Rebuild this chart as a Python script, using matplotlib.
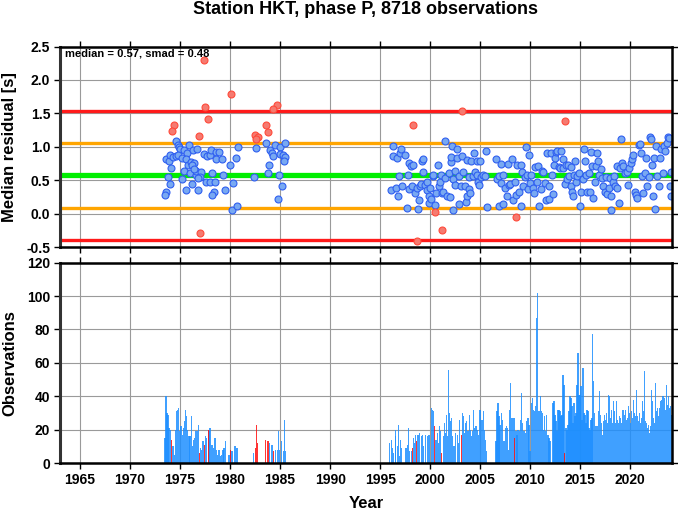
import matplotlib
matplotlib.use("Agg")
import matplotlib.pyplot as plt
import numpy as np

plt.rcParams['font.family'] = ['Liberation Sans', 'DejaVu Sans']
plt.rcParams['font.weight'] = 'bold'

# ---------------- data ----------------
title = "Station HKT, phase P, 8718 observations"
median_val = 0.57
smad_val = 0.48

# monthly median residuals (blue = within +-1 smad, red = outside)
blue_years = [
    1974.64, 1974.77, 1974.90, 1975.04, 1975.37, 1975.70, 1975.90, 1976.30, 1976.70, 1973.64,
    1973.90, 1974.04, 1974.30, 1974.57, 1974.84, 1975.24, 1975.64, 1975.77, 1976.10, 1976.37,
    1977.37, 1977.70, 1977.97, 1978.10, 1978.57, 1978.90, 1978.64, 1979.17, 1974.10, 1973.77,
    1973.97, 1973.57, 1973.50, 1975.24, 1975.37, 1975.64, 1975.97, 1976.24, 1976.57, 1976.64,
    1976.84, 1977.10, 1977.04, 1977.64, 1977.97, 1978.24, 1978.37, 1978.17, 1978.50, 1979.30,
    1979.50, 1979.97, 1980.30, 1980.57, 1980.77, 1980.17, 1980.70, 1976.17, 1976.44, 1976.84,
    1982.64, 1983.57, 1983.97, 1984.17, 1984.50, 1984.97, 1985.50, 1984.97, 1984.30, 1985.24,
    1985.44, 1985.37, 1983.90, 1983.77, 1984.84, 1982.44, 1985.17, 1984.77,
    1996.04, 1996.24, 1996.30, 1996.57, 1996.64, 1996.77, 1996.84, 1996.97, 1997.10, 1997.17,
    1997.50, 1997.64, 1997.77, 1997.84, 1997.90, 1998.04, 1998.17, 1998.30, 1998.50, 1998.64,
    1998.77, 1998.84, 1998.97, 1999.10, 1999.17, 1999.24, 1999.30, 1999.50, 1999.64, 1999.70,
    1999.84, 1999.90, 1999.97, 2000.10, 2000.24, 2000.30, 2000.50, 2000.57, 2000.77, 2000.84,
    2000.97, 2001.04, 2001.17, 2001.30, 2001.44, 2001.50, 2001.64, 2001.84, 2001.97, 2002.04,
    2002.10, 2002.17, 2002.24, 2002.30, 2002.44, 2002.50, 2002.64, 2002.70, 2002.84, 2002.90,
    2003.04, 2003.17, 2003.30, 2003.44, 2003.57, 2003.64, 2003.70, 2003.84, 2003.90, 2003.97,
    2004.10, 2004.24, 2004.37, 2004.50, 2004.64, 2004.70, 2004.77, 2004.90, 2004.97, 2005.10,
    2005.30, 2005.44, 2005.57, 2005.64, 2006.57, 2006.70, 2006.84, 2006.90, 2007.04, 2007.10,
    2007.24, 2007.30, 2007.44, 2007.64, 2007.77, 2007.84, 2007.97, 2008.17, 2008.30, 2008.44,
    2008.57, 2008.70, 2008.84, 2009.04, 2009.10, 2009.17, 2009.30, 2009.44, 2009.57, 2009.70,
    2009.77, 2009.90, 2009.97, 2010.10, 2010.24, 2010.37, 2010.50, 2010.64, 2010.77, 2010.90,
    2011.04, 2011.17, 2011.30, 2011.44, 2011.57, 2011.70, 2011.84, 2011.90, 2012.10, 2012.17,
    2012.30, 2012.37, 2012.50, 2012.57, 2012.70, 2012.84, 2012.97, 2013.10, 2013.24, 2013.30,
    2013.44, 2013.57, 2013.64, 2013.77, 2013.90, 2014.04, 2014.10, 2014.17, 2014.30, 2014.37,
    2014.44, 2014.57, 2014.70, 2014.84, 2014.97, 2015.10, 2015.24, 2015.37, 2015.44, 2015.57,
    2015.70, 2015.84, 2015.97, 2016.10, 2016.17, 2016.30, 2016.44, 2016.57, 2016.70, 2016.77,
    2016.90, 2017.04, 2017.17, 2017.30, 2017.44, 2017.57, 2017.70, 2017.84, 2017.97, 2018.04,
    2018.10, 2018.24, 2018.37, 2018.50, 2018.64, 2018.70, 2018.84, 2018.97, 2019.04, 2019.17,
    2019.30, 2019.44, 2019.64, 2019.77, 2019.90, 2020.04, 2020.17, 2020.30, 2020.44, 2020.57,
    2020.70, 2020.84, 2020.97, 2021.04, 2021.17, 2021.30, 2021.44, 2021.57, 2021.70, 2021.84,
    2021.97, 2022.04, 2022.17, 2022.30, 2022.37, 2022.50, 2022.57, 2022.70, 2022.84, 2022.97,
    2023.10, 2023.24, 2023.37, 2023.50, 2023.64, 2023.77, 2023.90, 2023.97, 2024.04, 2024.10,
]
blue_medians = [
    1.09, 1.03, 1.00, 0.96, 0.95, 0.91, 1.02, 0.95, 0.96, 0.81,
    0.79, 0.87, 0.85, 0.86, 0.88, 0.83, 0.82, 0.73, 0.77, 0.75,
    0.89, 0.86, 0.87, 0.95, 0.92, 0.92, 0.82, 0.82, 0.68, 0.55,
    0.44, 0.32, 0.28, 0.51, 0.63, 0.35, 0.60, 0.45, 0.58, 0.64,
    0.35, 0.62, 0.55, 0.48, 0.48, 0.60, 0.33, 0.28, 0.48, 0.58,
    0.35, 0.72, 0.46, 0.83, 1.00, 0.05, 0.12, 0.72, 0.66, 0.53,
    0.98, 1.06, 0.95, 0.91, 1.02, 1.00, 1.05, 0.89, 0.86, 0.88,
    0.85, 0.79, 0.73, 0.60, 0.58, 0.55, 0.41, 0.22,
    0.36, 0.86, 1.01, 0.39, 0.83, 0.26, 0.56, 0.91, 0.97, 0.42,
    0.87, 0.08, 0.58, 0.76, 0.37, 0.71, 0.42, 0.73, 0.31, 0.38,
    0.07, 0.21, 0.42, 0.45, 0.79, 0.62, 0.82, 0.43, 0.48, 0.36,
    0.16, 0.26, 0.39, 0.22, 0.56, 0.57, 0.13, 0.31, 0.72, 0.42,
    0.48, 0.58, 0.31, 0.33, 1.09, 0.53, 0.26, 0.60, 0.25, 0.77,
    0.84, 1.01, 0.05, 0.51, 0.64, 0.43, 0.96, 0.83, 0.15, 0.56,
    0.42, 0.86, 0.62, 0.42, 0.18, 0.26, 0.80, 0.55, 0.37, 0.31,
    0.78, 0.56, 0.91, 0.62, 0.78, 0.58, 0.48, 0.43, 0.79, 0.55,
    0.58, 0.56, 0.94, 0.10, 0.81, 0.51, 0.11, 0.56, 0.74, 0.46,
    0.57, 0.15, 0.38, 0.26, 0.74, 0.43, 0.45, 0.82, 0.21, 0.48,
    0.28, 0.72, 0.33, 0.12, 0.72, 0.62, 0.41, 0.54, 0.99, 0.57,
    0.37, 0.87, 0.46, 0.58, 0.39, 0.31, 0.69, 0.48, 0.71, 0.12,
    0.37, 0.63, 0.62, 0.46, 0.21, 0.90, 0.22, 0.42, 0.90, 0.57,
    0.30, 0.72, 0.83, 0.92, 0.93, 0.70, 0.68, 0.93, 0.68, 0.82,
    0.44, 0.72, 0.51, 0.72, 0.56, 0.41, 0.70, 0.32, 0.26, 0.58,
    0.78, 0.48, 0.56, 0.61, 0.12, 0.33, 0.52, 0.96, 0.78, 0.57,
    0.33, 0.61, 0.33, 0.92, 0.71, 0.23, 0.48, 0.71, 0.91, 0.78,
    0.57, 0.67, 0.53, 0.42, 0.33, 0.55, 0.30, 0.38, 0.53, 0.05,
    0.26, 0.47, 0.56, 0.42, 0.38, 0.71, 0.16, 0.68, 1.11, 0.75,
    0.71, 0.61, 0.62, 0.43, 0.68, 0.76, 0.81, 0.87, 0.32, 0.28,
    0.23, 1.02, 1.04, 0.91, 0.56, 0.31, 0.61, 0.83, 0.42, 0.55,
    1.15, 1.12, 0.73, 0.27, 0.83, 0.07, 1.01, 0.56, 0.41, 0.83,
    0.96, 0.61, 1.01, 0.93, 1.05, 1.14, 1.13, 0.41, 0.62, 0.26,
]
red_years = [
    1977.37, 1980.10, 1977.50, 1977.80, 1974.40, 1974.20, 1976.90, 1977.00,
    1984.70, 1984.30, 1983.60, 1983.80, 1982.50, 1982.80, 1982.60,
    1998.24, 2003.14, 2013.50, 2000.44, 2001.14, 1998.67, 2008.54,
]
red_medians = [
    2.30, 1.79, 1.59, 1.41, 1.32, 1.23, 1.16, -0.29,
    1.62, 1.56, 1.32, 1.22, 1.18, 1.15, 1.12,
    1.33, 1.53, 1.39, 0.02, -0.24, -0.41, -0.05,
]

# observations per month
obs_years = [
    1973.50, 1973.60, 1973.70, 1973.80, 1973.90, 1974.04, 1974.30, 1974.44, 1974.57, 1974.64,
    1974.77, 1974.87, 1974.97, 1975.10, 1975.24, 1975.37, 1975.47, 1975.57, 1975.67, 1975.77,
    1975.90, 1976.00, 1976.14, 1976.24, 1976.37, 1976.47, 1976.57, 1976.70, 1976.84, 1977.04,
    1977.14, 1977.30, 1977.54, 1977.67, 1977.90, 1978.00, 1978.14, 1978.27, 1978.37, 1978.50,
    1978.64, 1978.77, 1978.90, 1979.04, 1979.17, 1979.30, 1979.40, 1979.54, 1979.90, 1980.10,
    1980.24, 1980.50, 1980.64, 1980.77, 1982.37, 1983.97, 1984.10, 1984.24, 1984.57, 1984.70,
    1984.84, 1984.97, 1985.10, 1985.30, 1985.44, 1985.54,
    1995.97, 1996.10, 1996.24, 1996.37, 1996.50, 1996.57, 1996.70, 1996.80, 1996.90, 1997.04,
    1997.17, 1997.50, 1997.64, 1997.74, 1997.87, 1997.97, 1998.10, 1998.30, 1998.44, 1998.54,
    1998.74, 1998.87, 1998.97, 1999.10, 1999.20, 1999.30, 1999.57, 1999.70, 1999.84, 1999.97,
    2000.10, 2000.20, 2000.30, 2000.50, 2000.64, 2000.74, 2000.84, 2000.97, 2001.07, 2001.30,
    2001.40, 2001.50, 2001.60, 2001.74, 2001.84, 2001.94, 2002.04, 2002.14, 2002.24, 2002.37,
    2002.47, 2002.57, 2002.70, 2002.84, 2002.97, 2003.20, 2003.30, 2003.44, 2003.54, 2003.64,
    2003.77, 2003.90, 2004.04, 2004.14, 2004.24, 2004.34, 2004.44, 2004.57, 2004.70, 2004.80,
    2004.90, 2005.04, 2005.17, 2005.30, 2005.44, 2005.54, 2005.64,
    2006.57, 2006.67, 2006.77, 2006.87, 2006.97, 2007.10, 2007.24, 2007.37, 2007.50, 2007.60,
    2007.74, 2007.84, 2007.94, 2008.04, 2008.14, 2008.24, 2008.37, 2008.57, 2008.67, 2008.77,
    2008.90, 2009.04, 2009.14, 2009.24, 2009.37, 2009.50, 2009.64, 2009.77, 2009.87, 2009.97,
    2010.10, 2010.20, 2010.30, 2010.44, 2010.54, 2010.60, 2010.70, 2010.80, 2010.90, 2011.00,
    2011.10, 2011.24, 2011.34, 2011.44, 2011.54, 2011.64, 2011.77, 2011.87, 2011.97,
    2012.27, 2012.37, 2012.47, 2012.57, 2012.67, 2012.77, 2012.87, 2012.97, 2013.07, 2013.17,
    2013.27, 2013.37, 2013.57, 2013.67, 2013.77, 2013.87, 2013.97, 2014.07, 2014.17, 2014.27,
    2014.37, 2014.47, 2014.57, 2014.67, 2014.77, 2014.87, 2014.97, 2015.07, 2015.17, 2015.27,
    2015.37, 2015.47, 2015.57, 2015.67, 2015.77, 2015.87, 2015.97, 2016.07, 2016.17, 2016.24,
    2016.34, 2016.44, 2016.54, 2016.64, 2016.74, 2016.84, 2016.94, 2017.04, 2017.14, 2017.24,
    2017.34, 2017.44, 2017.54, 2017.64, 2017.74, 2017.84, 2017.94, 2018.04, 2018.14, 2018.24,
    2018.34, 2018.44, 2018.54, 2018.64, 2018.74, 2018.84, 2018.94, 2019.04, 2019.14, 2019.24,
    2019.34, 2019.44, 2019.54, 2019.64, 2019.74, 2019.84, 2019.94, 2020.04, 2020.14, 2020.24,
    2020.34, 2020.44, 2020.54, 2020.64, 2020.74, 2020.84, 2020.94, 2021.04, 2021.14, 2021.24,
    2021.34, 2021.44, 2021.54, 2021.64, 2021.74, 2021.84, 2021.94, 2022.04, 2022.14, 2022.24,
    2022.34, 2022.44, 2022.54, 2022.64, 2022.74, 2022.84, 2022.94, 2023.04, 2023.14, 2023.24,
    2023.34, 2023.44, 2023.54, 2023.60, 2023.70, 2023.80, 2023.90, 2024.00, 2024.10,
]
obs_counts = [
    15, 40, 30, 29, 21, 20, 10, 5, 20, 31,
    32, 33, 19, 22, 17, 21, 25, 32, 28, 20,
    16, 16, 28, 10, 14, 15, 19, 19, 23, 9,
    8, 13, 16, 15, 19, 21, 11, 11, 9, 15,
    8, 5, 8, 4, 5, 8, 9, 13, 5, 7,
    7, 10, 9, 9, 6, 12, 11, 11, 8, 8,
    19, 8, 13, 7, 26, 7,
    12, 14, 9, 6, 16, 20, 10, 23, 4, 14,
    9, 9, 9, 11, 21, 7, 7, 15, 12, 17,
    17, 17, 18, 16, 17, 10, 17, 16, 17, 17,
    33, 32, 31, 14, 14, 18, 12, 22, 19, 16,
    24, 18, 29, 16, 56, 30, 25, 27, 16, 10,
    10, 18, 17, 12, 26, 30, 28, 18, 24, 25,
    19, 29, 20, 16, 19, 32, 21, 22, 20, 17,
    32, 32, 26, 31, 20, 14, 7,
    13, 31, 36, 28, 23, 30, 26, 13, 21, 22,
    21, 8, 32, 48, 27, 27, 27, 19, 17, 20,
    19, 26, 42, 24, 19, 18, 25, 27, 23, 7,
    36, 39, 32, 31, 34, 87, 102, 31, 31, 40,
    31, 30, 20, 28, 19, 29, 17, 15, 13,
    36, 37, 29, 25, 19, 32, 32, 31, 28, 29,
    53, 47, 21, 20, 23, 31, 40, 39, 34, 24,
    36, 28, 30, 47, 66, 41, 41, 46, 26, 57,
    30, 29, 24, 32, 31, 21, 20, 26, 27, 77,
    49, 30, 22, 22, 22, 31, 43, 29, 24, 17,
    25, 29, 26, 30, 24, 41, 40, 27, 32, 24,
    37, 31, 24, 37, 26, 24, 28, 27, 24, 32,
    32, 29, 32, 26, 27, 34, 30, 24, 31, 27,
    38, 30, 28, 44, 28, 25, 30, 24, 27, 37,
    31, 55, 25, 24, 21, 23, 18, 22, 44, 37,
    27, 24, 48, 31, 33, 28, 33, 37, 38, 40,
    40, 39, 32, 47, 35, 40, 33, 34, 29,
]
# months whose median is an outlier
obs_red_years = [
    1974.17, 1976.94, 1977.44, 1977.80, 1980.00, 1982.50, 1982.64, 1982.77, 1983.57, 1983.70,
    1983.84, 1984.37, 1998.20, 1998.64, 2000.40, 2001.17, 2003.10, 2008.47, 2013.47,
]
obs_red_counts = [
    14, 6, 11, 20, 8, 9, 23, 12, 14, 13,
    13, 7, 9, 13, 22, 6, 17, 15, 6,
]

# ---------------- figure ----------------
W, H = 678, 511
fig = plt.figure(figsize=(W / 100, H / 100), dpi=100)
L, R = 60 / W, 672 / W
ax1 = fig.add_axes([L, 1 - 247 / H, R - L, 200.5 / H])
ax2 = fig.add_axes([L, 1 - 463 / H, R - L, 200.3 / H])

xlim = (1963.0, 2024.17)
xt = np.arange(1965, 2021, 5)

for ax in (ax1, ax2):
    ax.set_xlim(*xlim)
    ax.set_xticks(xt)
    ax.grid(True, color='#9a9a9a', lw=0.8, zorder=0)
    ax.set_axisbelow(True)
    for s in ax.spines.values():
        s.set_linewidth(1.8)
        s.set_color('black')
        s.set_zorder(10)
    ax.spines['left'].set_color('#333333')
    ax.spines['left'].set_linewidth(2.2)
    ax.tick_params(direction='out', length=4, width=1.0, top=True, right=True,
                   labelsize=10, pad=3)

# top panel
ax1.set_ylim(-0.5, 2.5)
ax1.set_yticks(np.arange(-0.5, 2.51, 0.5))
ax1.set_yticklabels([f"{v:.1f}" for v in np.arange(-0.5, 2.51, 0.5)], fontweight='bold')
ax1.tick_params(labelbottom=False)
for lvl, col, lw in [(median_val + 2 * smad_val, '#ff1a1a', 2.4),
                     (median_val - 2 * smad_val, '#ff1a1a', 2.4),
                     (median_val + smad_val, '#ffa500', 2.4),
                     (median_val - smad_val, '#ffa500', 2.4),
                     (median_val, '#00ee00', 3.8)]:
    ax1.axhline(lvl, color=col, lw=lw, zorder=2)
ax1.scatter(blue_years, blue_medians, s=25, facecolor='#78a9f2', edgecolor='#2f5ff0',
            linewidth=0.8, zorder=4)
ax1.scatter(red_years, red_medians, s=25, facecolor='#f57a70', edgecolor='#ff4a3a',
            linewidth=0.8, zorder=4)
ax1.text(65 / W, 1 - 54 / H, f"median = {median_val:.2f}, smad = {smad_val:.2f}",
         transform=fig.transFigure, fontsize=8, fontweight='bold', va='center', ha='left',
         zorder=11)

# bottom panel
ax2.set_ylim(0, 120)
ax2.set_yticks(np.arange(0, 121, 20))
ax2.set_yticklabels([str(v) for v in range(0, 121, 20)], fontweight='bold')
ax2.bar(obs_years, obs_counts, width=0.12, color='#1e8fff', alpha=0.85, linewidth=0,
        zorder=3)
ax2.bar(obs_red_years, obs_red_counts, width=0.1, color='#ff1010', alpha=0.85,
        linewidth=0, zorder=4)
ax2.set_xticklabels([str(v) for v in xt], fontweight='bold')

fig.text(366 / W, 1 - 10 / H, title, ha='center', va='center', fontsize=13,
         fontweight='bold')
fig.text(10 / W, 1 - 147 / H, "Median residual [s]", rotation=90, ha='center',
         va='center', fontsize=12, fontweight='bold')
fig.text(10 / W, 1 - 363 / H, "Observations", rotation=90, ha='center', va='center',
         fontsize=12, fontweight='bold')
fig.text(366 / W, 1 - 503 / H, "Year", ha='center', va='center', fontsize=12,
         fontweight='bold')

fig.savefig("out.png", dpi=100)
